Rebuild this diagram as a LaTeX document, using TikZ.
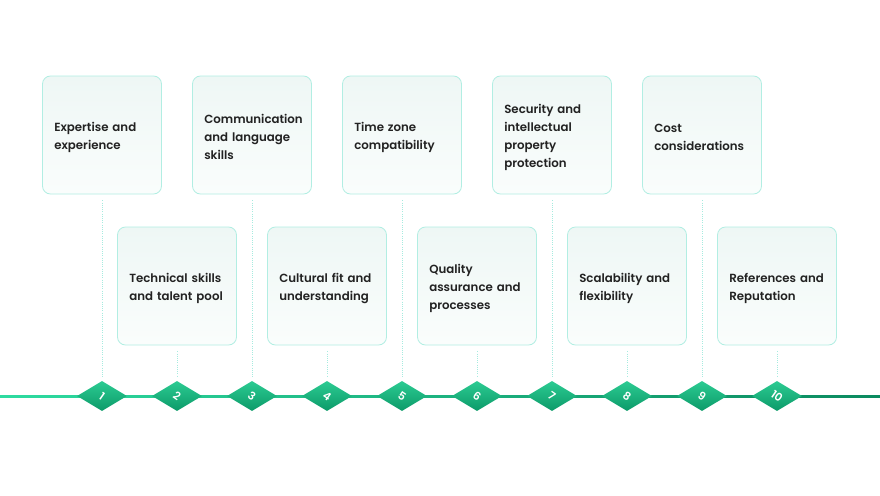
\documentclass[tikz,border=0pt]{standalone}
\usepackage{fontspec}
\newfontfamily\pop{Poppins}[UprightFont={* SemiBold}]
\usetikzlibrary{shapes.geometric}
\definecolor{boxborder}{HTML}{B2EEE3}
\definecolor{boxtop}{HTML}{EEF7F5}
\definecolor{boxbot}{HTML}{FAFDFC}
\definecolor{txt}{HTML}{222222}
\definecolor{dtop}{HTML}{2CCB92}
\definecolor{dbot}{HTML}{0C9A69}
\definecolor{lineL}{HTML}{2EDBA0}
\definecolor{lineR}{HTML}{0B8A5F}
\definecolor{dots}{HTML}{A6EBDF}
\begin{document}
\begin{tikzpicture}[x=1pt,y=-1pt,
  card/.style={draw=boxborder, line width=0.8pt, rounded corners=8pt,
    top color=boxtop, bottom color=boxbot, minimum width=119pt, minimum height=118pt, inner sep=0pt},
  cardtext/.style={anchor=west, text width=108pt, align=left, inner sep=0pt,
    font=\pop\fontsize{11.8}{18}\selectfont, text=txt},
  gem/.style={diamond, minimum width=50pt, minimum height=30pt, inner sep=0pt,
    top color=dtop, bottom color=dbot, draw=none},
  num/.style={font=\pop\fontsize{11}{12}\selectfont, text=white, rotate=-35, inner sep=0pt},
  dotline/.style={draw=dots, line width=1pt, dash pattern=on 1pt off 1.2pt}]
\useasboundingbox (0,0) rectangle (880,495);
\fill[white] (0,0) rectangle (880,495);
% timeline
\coordinate (tlL) at (0,396);
\coordinate (tlR) at (880,396);
\shade[left color=lineL, right color=lineR] ([yshift=-1pt]tlL) rectangle ([yshift=1pt]tlR);
% cards
\foreach \i/\x/\y/\t in {
  1/102/135/{Expertise and\\experience},
  2/177/286/{Technical skills\\and talent pool},
  3/252/135/{Communication\\and language\\skills},
  4/327/286/{Cultural fit and\\understanding},
  5/402/135/{Time zone\\compatibility},
  6/477/286/{Quality\\assurance and\\processes},
  7/552/135/{Security and\\intellectual\\property\\protection},
  8/627/286/{Scalability and\\flexibility},
  9/702/135/{Cost\\considerations},
  10/777/286/{References and\\Reputation}}{
  \node[card] (b\i) at (\x,\y) {};
  \node[cardtext] (t\i) at ([xshift=12pt,yshift=-2pt]b\i.west) {\t};
  \node[gem] (d\i) at (\x,396) {};
  \node[num] (n\i) at (d\i.center) {\i};
  \draw[dotline] ([yshift=-6pt]b\i.south) -- ([yshift=4pt]d\i.north);
}
\end{tikzpicture}
\end{document}
